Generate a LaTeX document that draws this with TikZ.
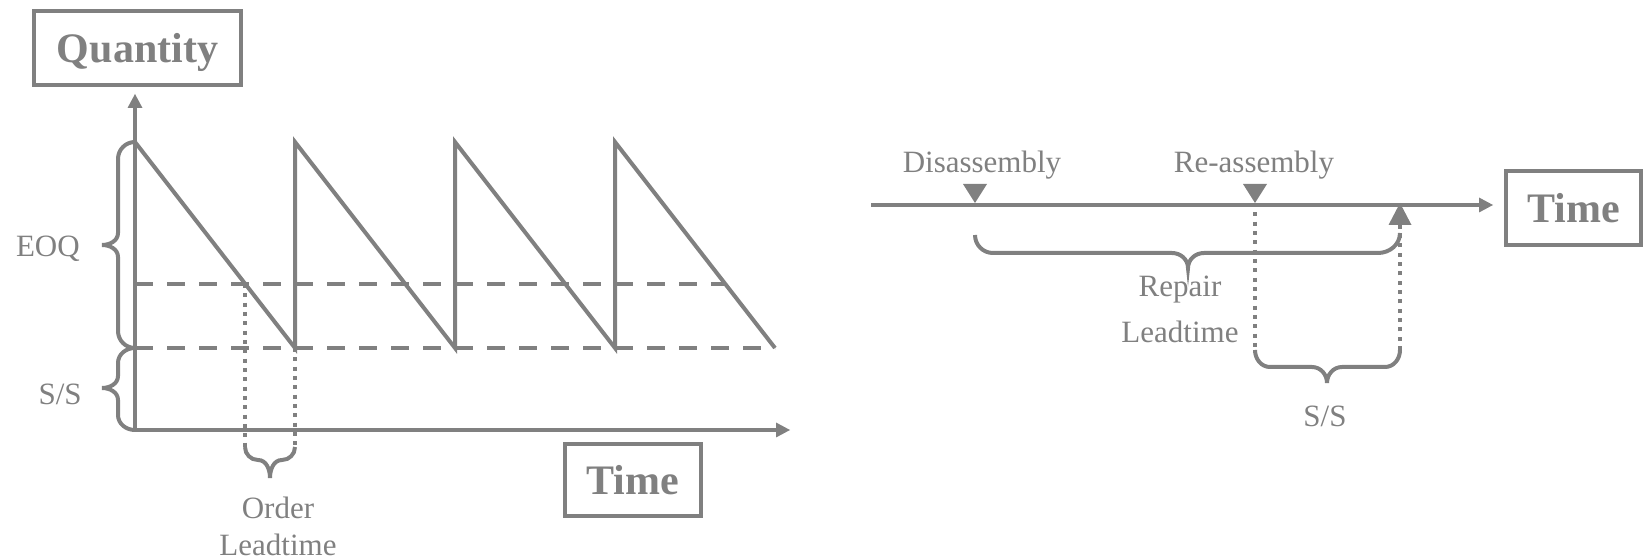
\documentclass[tikz,border=0pt]{standalone}
\usepackage{fontspec}
\setmainfont{Liberation Serif}
\usetikzlibrary{arrows.meta}
\definecolor{linegray}{RGB}{128,128,128}

\begin{document}
\begin{tikzpicture}[x=0.75pt, y=0.75pt,
    >={Triangle[width=11.25pt,length=10.5pt,line width=0pt]},
    thick line/.style={draw=linegray, line width=3pt},
    dash line/.style={draw=linegray, line width=3pt, dash pattern=on 13.5pt off 10.5pt},
    dot line/.style={draw=linegray, line width=3pt, dash pattern=on 3pt off 4pt},
    curly/.style={draw=linegray, line width=3pt},
    title box/.style={draw=linegray, line width=3pt, text=linegray, inner sep=0pt,
        text depth=0pt, font=\fontsize{31.5}{38}\selectfont\bfseries},
    lbl/.style={text=linegray, inner sep=0pt, font=\fontsize{23.25}{28}\selectfont}]
    \useasboundingbox (0,0) rectangle (1643,-559);

    % Title boxes
    \node[title box, minimum width=155pt, minimum height=55.5pt] (quantity) at (137.5,-48) {Quantity};
    \node[title box, minimum width=102pt, minimum height=54pt] (time1) at (633,-480) {Time};
    \node[title box, minimum width=101pt, minimum height=55.5pt] (time2) at (1573.5,-208) {Time};

    %axes of the stock chart
    \coordinate (O) at (135,-430);
    \coordinate (ytop) at (135,-94);
    \coordinate (xend) at (790,-430);
    \draw[thick line, <->] (ytop) -- (O) -- (xend);

    % saw tooth stock level
    \draw[thick line] (135,-142) -- (295,-348) -- (295,-142) -- (455,-348) -- (455,-142)
        -- (615,-348) -- (615,-142) -- (775,-348);

    %reorder point and safety stock levels
    \draw[dash line] (135,-284) -- (725,-284);
    \draw[dash line] (135,-348) -- (775,-348);

    % order lead time
    \draw[dot line] (245,-284) -- (245,-447);
    \draw[dot line] (295,-348) -- (295,-447);
    \draw[curly] (245,-447) to[out=-90,in=180] (258,-460) to[out=0,in=90] (270,-478)
        to[out=90,in=180] (282,-460) to[out=0,in=-90] (295,-447);
    \node[lbl, align=center, font=\fontsize{23.25}{27.75}\selectfont] (orderlt) at (278,-526) {Order\\Leadtime};

    % braces on the quantity axis
    \draw[curly] (135,-142) to[out=180,in=90] (118,-159) -- (118,-233) to[out=-90,in=0] (102,-245)
        to[out=0,in=90] (118,-257) -- (118,-331) to[out=-90,in=180] (135,-348);
    \draw[curly] (135,-348) to[out=180,in=90] (118,-363) -- (118,-376) to[out=-90,in=0] (102,-388)
        to[out=0,in=90] (118,-400) -- (118,-415) to[out=-90,in=180] (135,-430);
    \node[lbl, anchor=base east] (eoq) at (80,-257) {EOQ};
    \node[lbl, anchor=base east] (ssleft) at (82,-405) {S/S};

    % repair time line
    \coordinate (tstart) at (871,-205);
    \coordinate (tend) at (1493,-205);
    \draw[thick line, ->] (tstart) -- (tend);

    \coordinate (dis) at (975,-203);
    \coordinate (reas) at (1255,-203);
    \fill[linegray] (dis) -- ++(-12,19) -- ++(24,0) -- cycle;
    \fill[linegray] (reas) -- ++(-12,19) -- ++(24,0) -- cycle;
    \node[lbl, anchor=base] (disasm) at (982,-173) {Disassembly};
    \node[lbl, anchor=base] (reasm) at (1254,-173) {Re-assembly};

    % repair lead time
    \draw[curly] (975,-235) to[out=-90,in=180] (993,-253) -- (1172,-253) to[out=0,in=90] (1188,-268)
        to[out=90,in=180] (1204,-253) -- (1378,-253) to[out=0,in=-90] (1400,-233);
    \node[lbl, align=center, font=\fontsize{23.25}{34.5}\selectfont] (repairlt) at (1180,-309.5) {Repair\\Leadtime};

    % safety stock on the time line
    \coordinate (ssend) at (1400,-203);
    \draw[dot line] (reas) -- (1255,-350);
    \draw[dot line, -{Triangle[width=17.25pt,length=16.5pt,line width=0pt]}] (1400,-350) -- (ssend);
    \draw[curly] (1255,-350) to[out=-90,in=180] (1270,-367) -- (1312,-367) to[out=0,in=90] (1327,-383)
        to[out=90,in=180] (1342,-367) -- (1385,-367) to[out=0,in=-90] (1400,-350);
    \node[lbl, anchor=base] (ssright) at (1325,-427) {S/S};

\end{tikzpicture}
\end{document}
